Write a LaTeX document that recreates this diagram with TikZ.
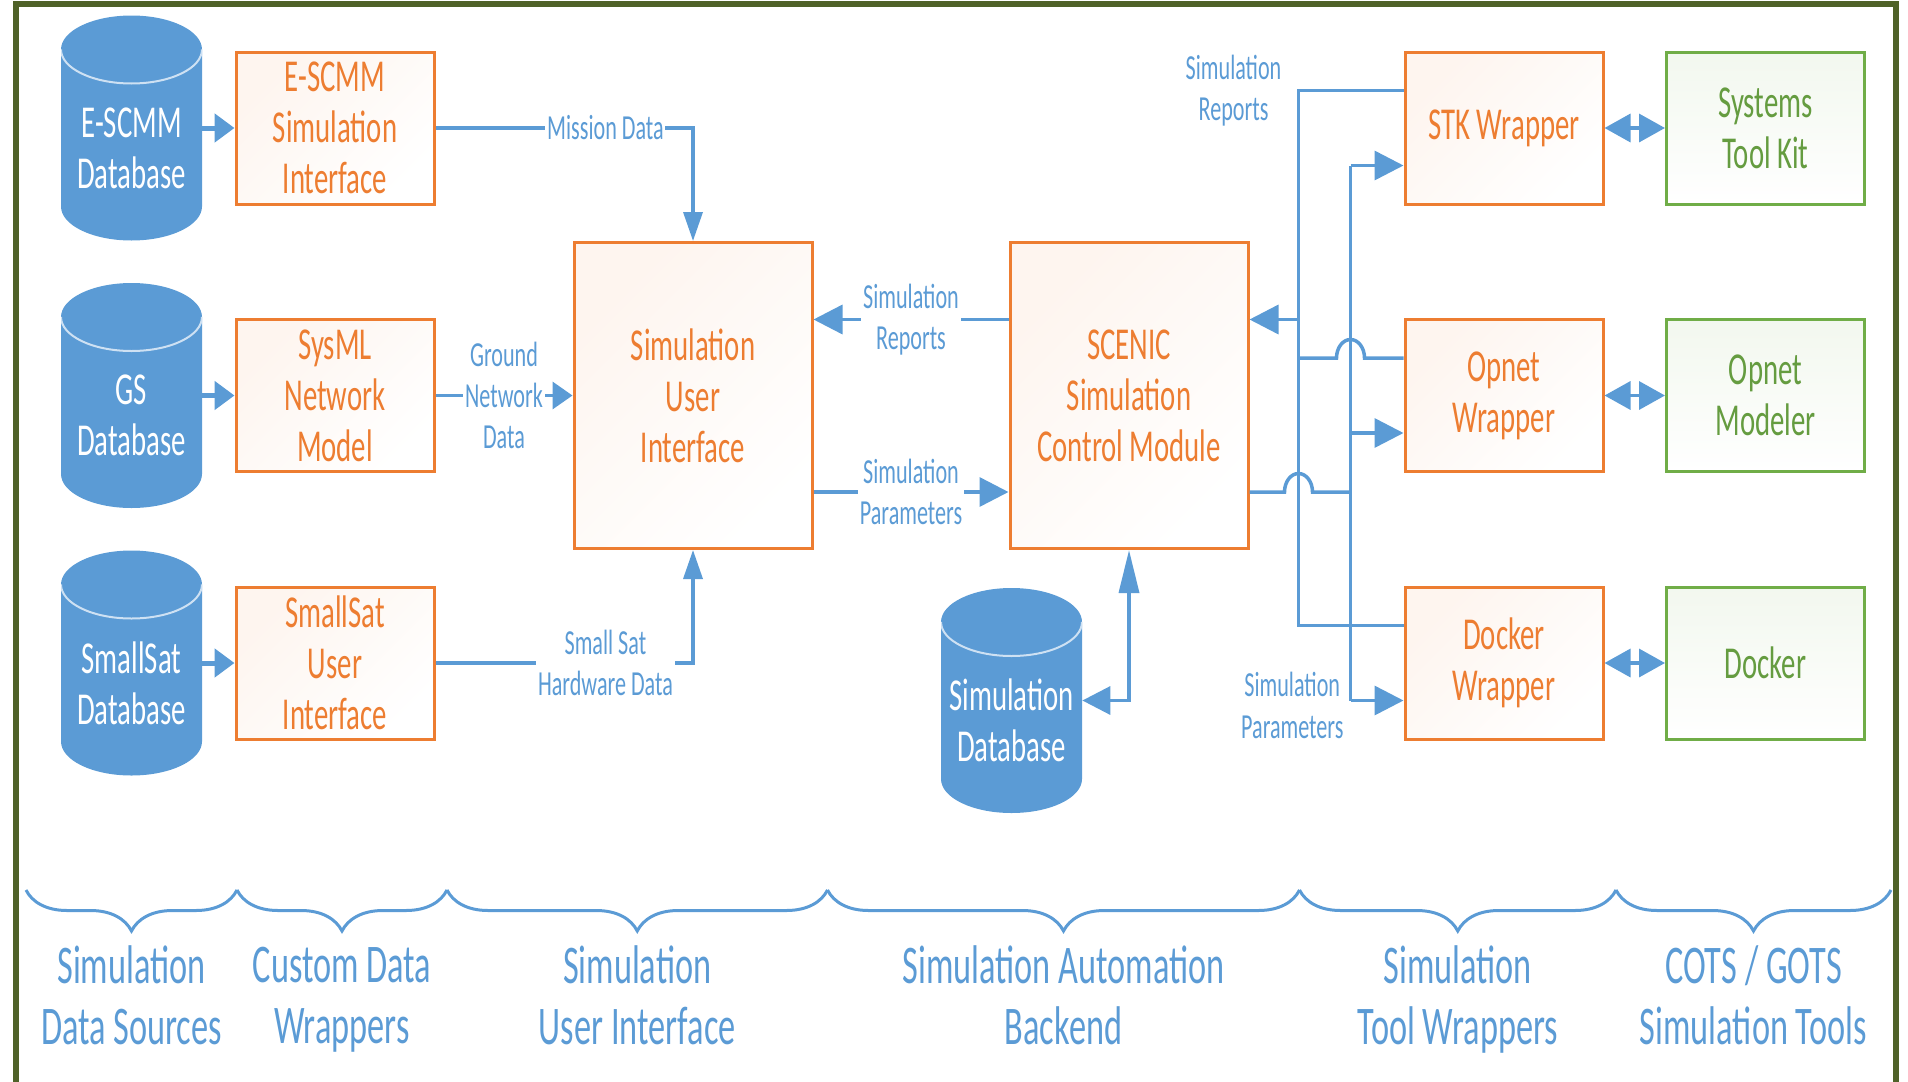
\documentclass[tikz,border=0pt]{standalone}
\usepackage{fontspec}
\setmainfont{Carlito}[FakeStretch=0.63]
\usepackage{tikz}
\usetikzlibrary{arrows.meta,shapes,positioning,decorations.pathreplacing}
\usepackage{xcolor}
\definecolor{dfblue}{RGB}{91,155,213}
\definecolor{dforange}{RGB}{237,125,49}
\definecolor{dfgreen}{RGB}{112,173,71}
\definecolor{dfolive}{RGB}{79,98,40}
\newcommand{\boxfont}{\fontsize{26}{29}\selectfont}
\newcommand{\lblfont}{\fontsize{20}{23.5}\selectfont}
\newcommand{\grpfont}{\fontsize{31}{35}\selectfont}
\tikzstyle{conn} = [line width=0.07cm, color=dfblue]
\tikzstyle{arrow} = [conn, ->, >={Triangle[length=0.58cm, width=0.58cm]}]
\tikzstyle{varrow} = [conn, ->, >={Triangle[length=0.58cm, width=0.38cm]}]
\tikzstyle{dbarrow} = [line width=0.1cm, color=dfblue, ->, >={Triangle[length=0.4cm, width=0.56cm]}]
\tikzstyle{wrapper} = [rectangle, minimum width=3.96cm, minimum height=3.04cm, align=center, draw=dforange, line width=0.06cm, text=dforange, top color=dforange!8, bottom color=white, shading angle=45, font=\boxfont]
\tikzstyle{bigblock} = [wrapper, minimum width=4.76cm, minimum height=6.12cm]
\tikzstyle{tool} = [wrapper, draw=dfgreen, text=dfgreen!90!black, top color=dfgreen!9]
\tikzstyle{database} = [rectangle, minimum width=2.82cm, minimum height=4.5cm, inner sep=0pt, path picture={
  \fill[dfblue] ([yshift=-0.68cm]path picture bounding box.north west) arc[start angle=180, end angle=0, x radius=1.41cm, y radius=0.68cm] -- ([yshift=0.68cm]path picture bounding box.south east) arc[start angle=0, end angle=-180, x radius=1.41cm, y radius=0.68cm] -- cycle;
  \draw[white!70!dfblue, line width=0.04cm] ([yshift=-0.68cm]path picture bounding box.north west) arc[start angle=180, end angle=360, x radius=1.41cm, y radius=0.68cm];}]
\tikzstyle{dbtext} = [text=white, align=center, font=\boxfont, yshift=-0.4cm]
\tikzstyle{lbl} = [font=\lblfont, text=dfblue, align=center, fill=white, inner sep=1pt]
\tikzstyle{grp} = [font=\grpfont, text=dfblue, align=center, execute at begin node=\strut, execute at end node=\strut]
\tikzstyle{grpbrace} = [line width=0.06cm, color=dfblue, decorate, decoration={brace, mirror, amplitude=0.82cm}]

\begin{document}
\begin{tikzpicture}[node distance=5.35cm]
\useasboundingbox (0,0) rectangle (38.16,-21.62);
% Frame
\draw[dfolive, line width=0.12cm] (0.32,-22) -- (0.32,-0.08) -- (37.92,-0.08) -- (37.92,-22);

% Data sources
\node (escmmdb) [database, label={[dbtext]center:E-SCMM\\Database}] at (2.63,-2.56) {};
\node (gsdb) [database, below of=escmmdb, label={[dbtext]center:GS\\Database}] {};
\node (ssdb) [database, below of=gsdb, label={[dbtext]center:SmallSat\\Database}] {};

% Custom data wrappers
\node (escmm) [wrapper, right of=escmmdb, xshift=-1.28cm] {E-SCMM\\Simulation\\Interface};
\node (sysml) [wrapper, below of=escmm] {SysML\\Network\\Model};
\node (ssui) [wrapper, below of=sysml] {SmallSat\\User\\Interface};

% User interface and backend
\node (sui) [bigblock, right of=sysml, xshift=1.81cm] {Simulation\\User\\Interface};
\node (scenic) [bigblock, right of=sui, xshift=3.37cm] {SCENIC\\Simulation\\Control Module};
\node (simdb) [database, below of=scenic, xshift=-2.35cm, yshift=-0.75cm, label={[dbtext]center:Simulation\\Database}] {};

% Tool wrappers and tools
\node (stk) [wrapper] at (30.08,-2.56) {STK Wrapper};
\node (opnet) [wrapper, below of=stk] {Opnet\\Wrapper};
\node (docker) [wrapper, below of=opnet] {Docker\\Wrapper};
\node (stktool) [tool, right of=stk, xshift=-0.12cm] {Systems\\Tool Kit};
\node (opnettool) [tool, below of=stktool] {Opnet\\Modeler};
\node (dockertool) [tool, below of=opnettool] {Docker};

% Arrows - data sources
\draw[dbarrow] (escmmdb.east) -- (escmm.west);
\draw[dbarrow] (gsdb.east) -- (sysml.west);
\draw[dbarrow] (ssdb.east) -- (ssui.west);
\draw[varrow] (escmm.east) -| node[lbl, pos=0.33] (mdlbl) {Mission Data} (sui.north);
\draw[arrow, >={Triangle[length=0.4cm, width=0.54cm]}] (sysml.east) -- node[lbl] (gndlbl) {Ground\\Network\\Data} (sui.west);
\draw[varrow] (ssui.east) -| node[lbl, pos=0.33] (sslbl) {Small Sat\\Hardware Data} (sui.south);

% Arrows - user interface and backend
\draw[arrow] ([yshift=1.52cm]scenic.west) -- node[lbl] (rptlbl) {Simulation\\Reports} ([yshift=1.52cm]sui.east);
\draw[arrow] ([yshift=-1.93cm]sui.east) -- node[lbl] (parlbl) {Simulation\\Parameters} ([yshift=-1.93cm]scenic.west);
\draw[conn, {Triangle[length=0.56cm, width=0.56cm]}-{Triangle[length=0.86cm, width=0.4cm]}] (simdb.east) -| (scenic.south);

% Bus to the tool wrappers
\coordinate (stk-r) at ([yshift=0.75cm]stk.west);
\coordinate (stk-p) at ([yshift=-0.75cm]stk.west);
\coordinate (opnet-r) at ([yshift=0.75cm]opnet.west);
\coordinate (opnet-p) at ([yshift=-0.75cm]opnet.west);
\coordinate (docker-r) at ([yshift=0.75cm]docker.west);
\coordinate (docker-p) at ([yshift=-0.75cm]docker.west);
\coordinate (scenic-r) at ([yshift=1.52cm]scenic.east);
\coordinate (scenic-p) at ([yshift=-1.93cm]scenic.east);
\coordinate (rbus) at ([xshift=-2.10cm]stk-r);
\coordinate (pbus) at ([xshift=-1.06cm]stk-p);
\coordinate (pbusend) at (pbus |- docker-p);

\draw[conn] (stk-r) -- (rbus) -- (rbus |- docker-r) -- (docker-r);
\draw[conn] (opnet-r) -- ([xshift=0.28cm]pbus |- opnet-r) arc[start angle=0, end angle=180, x radius=0.28cm, y radius=0.37cm] -- (rbus |- opnet-r);
\draw[arrow] (rbus |- scenic-r) -- (scenic-r);
\draw[conn] (scenic-p) -- ([xshift=-0.28cm]rbus |- scenic-p) arc[start angle=180, end angle=0, x radius=0.28cm, y radius=0.37cm] -- (pbus |- scenic-p);
\draw[conn] (pbus) -- (pbusend);
\draw[arrow] (pbus) -- (stk-p);
\draw[arrow] (pbus |- opnet-p) -- (opnet-p);
\draw[arrow] (pbusend) -- (docker-p);
\node (toprptlbl) [lbl, fill=none, left=0.3cm of rbus] {Simulation\\Reports};
\node (botparlbl) [lbl, fill=none, left=0.1cm of pbusend, yshift=-0.1cm] {Simulation\\Parameters};

% Wrappers to tools
\draw[arrow, <->, >={Triangle[length=0.52cm, width=0.56cm]}] (stk.east) -- (stktool.west);
\draw[arrow, <->, >={Triangle[length=0.52cm, width=0.56cm]}] (opnet.east) -- (opnettool.west);
\draw[arrow, <->, >={Triangle[length=0.52cm, width=0.56cm]}] (docker.east) -- (dockertool.west);

% Groups
\draw[grpbrace] (0.52,-17.8) -- node[grp, yshift=-2.29cm] (srcgrp) {Simulation\\Data Sources} (4.74,-17.8);
\draw[grpbrace] (4.74,-17.8) -- node[grp, yshift=-2.29cm] (cdwgrp) {Custom Data\\Wrappers} (8.94,-17.8);
\draw[grpbrace] (8.94,-17.8) -- node[grp, yshift=-2.29cm] (suigrp) {Simulation\\User Interface} (16.55,-17.8);
\draw[grpbrace] (16.55,-17.8) -- node[grp, yshift=-2.29cm] (autogrp) {Simulation Automation\\Backend} (25.99,-17.8);
\draw[grpbrace] (25.99,-17.8) -- node[grp, yshift=-2.29cm] (twgrp) {Simulation\\Tool Wrappers} (32.32,-17.8);
\draw[grpbrace] (32.32,-17.8) -- node[grp, yshift=-2.29cm] (cotsgrp) {COTS / GOTS\\Simulation Tools} (37.82,-17.8);
\end{tikzpicture}
\end{document}
